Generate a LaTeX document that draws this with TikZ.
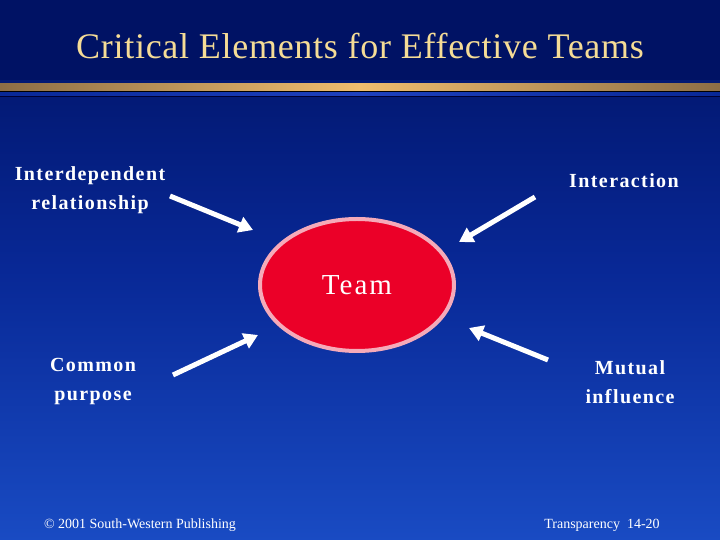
\documentclass[tikz,border=0pt]{standalone}
\usepackage{fontspec}
\setmainfont{Liberation Serif}
\newfontfamily\spaced[LetterSpace=7]{Liberation Serif}
\newfontfamily\titlefont[LetterSpace=2]{Liberation Serif}
\usetikzlibrary{arrows.meta,shapes.geometric}
\definecolor{bgtop}{RGB}{0,18,100}
\definecolor{bgmid}{RGB}{8,40,150}
\definecolor{bgbot}{RGB}{25,75,195}
\definecolor{titlec}{RGB}{245,220,150}
\definecolor{goldc}{RGB}{240,190,110}
\definecolor{goldd}{RGB}{140,110,70}
\definecolor{bluel}{RGB}{30,65,190}
\definecolor{teamred}{RGB}{235,0,40}
\definecolor{teampink}{RGB}{245,170,185}
\tikzset{
 lbl/.style={text=white,font=\spaced\bfseries\fontsize{20}{29}\selectfont,align=center},
 foot/.style={text=white,font=\fontsize{14}{16}\selectfont},
 arr/.style={white,line width=5pt,-{Triangle[length=14pt,width=16pt]}}
}
\begin{document}
\begin{tikzpicture}[x=1pt,y=1pt]
\useasboundingbox (0,0) rectangle (720,540);
\shade[top color=bgtop,bottom color=bgbot,middle color=bgmid] (0,0) rectangle (720,540);
\fill[bgtop] (0,460) rectangle (720,540);
\shade[left color=goldd,right color=goldd,middle color=goldc] (0,449) rectangle (720,456);
\fill[black] (0,448) rectangle (720,449);
\shade[left color=bgmid,right color=bgmid,middle color=bluel] (0,444) rectangle (720,447);
\fill[black!80!blue] (0,443) rectangle (720,444);
\node[text=titlec,font=\titlefont\fontsize{36}{40}\selectfont] (title) at (360,494) {Critical Elements for Effective Teams};
\node[draw=teampink,line width=4pt,fill=teamred,ellipse,minimum width=194pt,minimum height=132pt,text=white,font=\spaced\fontsize{29}{32}\selectfont] (team) at (357,255) {Team};
\node[lbl] (a) at (90,350) {Interdependent\\relationship};
\node[lbl] (b) at (624,359) {Interaction};
\node[lbl] (c) at (93,158) {Common\\purpose};
\node[lbl] (d) at (630,158) {Mutual\\influence};
\coordinate (a1) at (170,344); \coordinate (a2) at (253,310);
\coordinate (b1) at (535,343); \coordinate (b2) at (459,298);
\coordinate (c1) at (173,165); \coordinate (c2) at (258,205);
\coordinate (d1) at (548,180); \coordinate (d2) at (469,212);
\draw[arr] (a1) -- (a2);
\draw[arr] (b1) -- (b2);
\draw[arr] (c1) -- (c2);
\draw[arr] (d1) -- (d2);
\node[foot] (f1) at (140,15) {© 2001 South-Western Publishing};
\node[foot] (f2) at (602,15) {Transparency\ \ 14-20};
\end{tikzpicture}
\end{document}
